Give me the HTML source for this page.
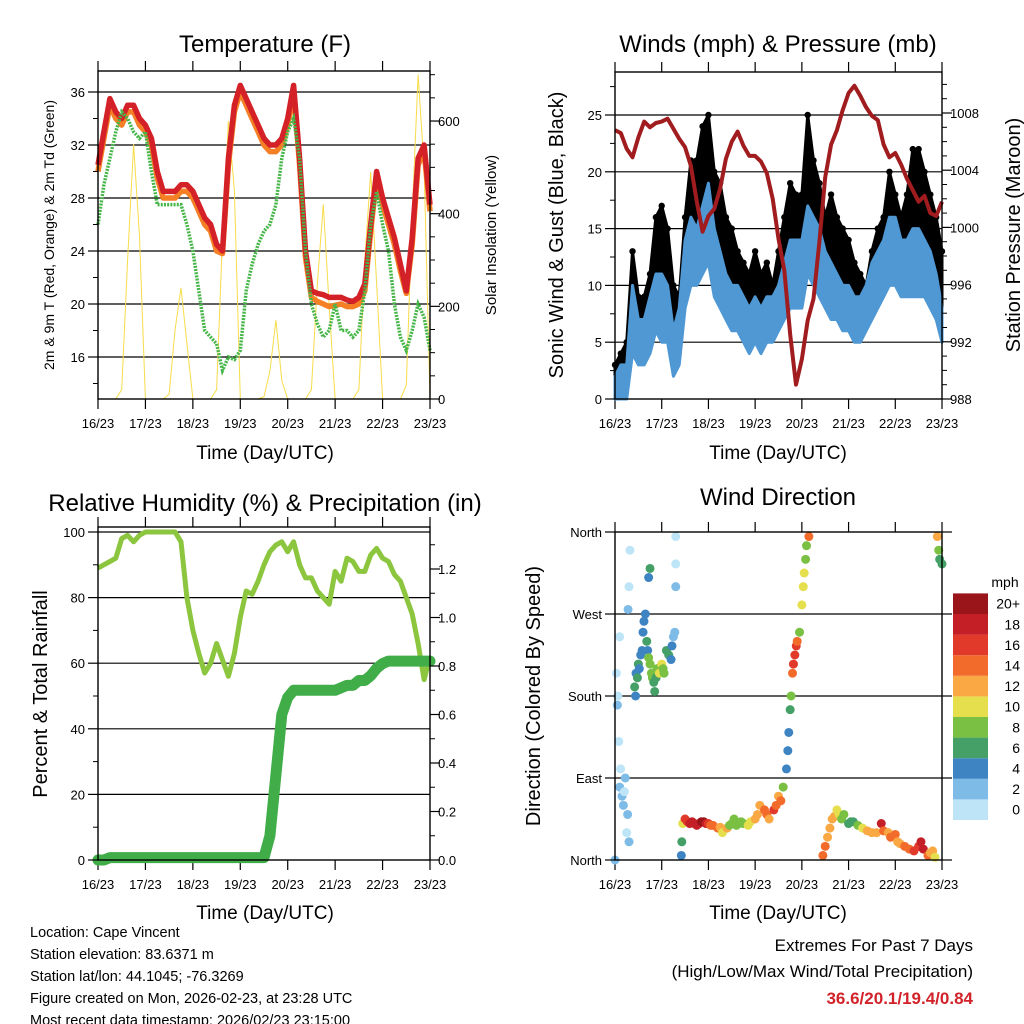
<!DOCTYPE html>
<html><head><meta charset="utf-8">
<style>
body{margin:0;background:#fff;}
svg{display:block;font-family:"Liberation Sans",sans-serif;}
</style></head>
<body>
<svg id="c" width="1024" height="1024" viewBox="0 0 1024 1024" xmlns="http://www.w3.org/2000/svg"></svg>
<script>
// ---------- DATA (3-hour samples, day 0..7) ----------
const dayLabels = ["16/23","17/23","18/23","19/23","20/23","21/23","22/23","23/23"];
const temp2m = [30.5,33,35.5,34.5,34,35,35,34,33.5,32.5,30,28.5,28.5,28.5,29,29,28.5,27.5,26.5,26,24.5,24,31,35,36.5,35.5,34.5,33.5,32.5,32,32,32.5,34,36.5,31,24,21,20.8,20.7,20.5,20.5,20.5,20.3,20.2,20.5,21.5,26,30,28,26.5,25,23,21,25,31,32,27.5];
const temp9m = [30,32.5,35,34,33.5,34.5,34.5,33.5,33,32,29.5,28,28,28,28.5,28.5,28,27,26,25.5,24,23.8,30.5,34.5,36,35,34,33,32,31.5,31.5,32,33.5,36,30.5,23.5,20.5,20.2,20,19.8,19.9,20,19.8,19.8,20,21,25.5,29.5,27.5,26,24.5,22.5,20.8,24.5,30.5,31.5,27];
const dewpt = [26,29,31,33,34.5,34,33,32.5,33,30,27.5,27.5,27.5,27.5,27.5,26,24,21,18,17.5,17,15,16,15.8,16.5,21,23,24.5,25.5,26,27.5,31,33,34,31,24,20,18.5,17.5,18,20,18,18,17.5,18,21,26,28.5,26,24,20,17.5,16.5,18,20,19,16.5];
const solar = [0,0,0,0,20,300,550,350,0,0,0,0,10,150,240,120,0,0,0,0,20,350,600,450,0,0,0,0,5,60,170,40,0,0,0,0,20,250,420,200,0,0,0,0,20,300,490,250,0,0,0,0,30,400,700,500,0];
const gust = [3,4,5,13,9,9,11,16,17,15,10,9,16,21,21,24,25,20,19,16,15,13,12,11,13,11,12,10,13,16,19,18,18,25,21,19,16,18,16,15,14,12,11,10,13,15,16,20,18,16,18,22,22,20,18,16,13];
const windHi = [2,3,3,10,7,7,9,11,11,10,6,8,14,16,15,17,19,15,13,11,10,10,9,8,9,8,9,9,10,12,14,14,14,17,16,15,13,12,11,10,10,9,9,10,12,13,14,16,16,14,14,15,15,14,13,11,8];
const windLo = [0,0,0,4,3,3,4,6,5,5,2,3,8,10,10,11,12,9,8,7,6,6,5,4,5,4,5,5,6,7,8,8,8,11,10,9,8,7,7,6,6,5,5,6,7,8,9,10,10,9,9,9,9,9,8,7,5];
const pressure = [1006.8,1006.6,1005.5,1004.9,1006.3,1007.4,1007.0,1007.3,1007.4,1007.6,1006.9,1006.2,1005.6,1004.3,1001.8,999.7,1000.8,1001.3,1002.7,1004.8,1006.0,1006.7,1005.7,1005.0,1005.0,1004.6,1003.8,1002.0,999.2,997.0,992.5,989.0,990.8,993.5,995.0,999.0,1003.5,1005.8,1006.8,1008.2,1009.4,1009.9,1009.2,1008.4,1007.8,1007.5,1005.8,1004.9,1005.2,1004.4,1003.4,1002.6,1001.8,1002.2,1001.0,1000.8,1001.8];
const rh = [89,90,91,92,98,99,97,99,100,100,100,100,100,100,97,80,70,63,57,60,66,61,56,63,74,82,81,85,90,94,96,97,94,97,90,86,86,82,80,78,88,85,92,91,88,88,93,95,92,91,87,85,80,75,66,55,62];
const precip = [0,0,0.01,0.01,0.01,0.01,0.01,0.01,0.01,0.01,0.01,0.01,0.01,0.01,0.01,0.01,0.01,0.01,0.01,0.01,0.01,0.01,0.01,0.01,0.01,0.01,0.01,0.01,0.01,0.1,0.35,0.6,0.67,0.70,0.70,0.70,0.70,0.70,0.70,0.70,0.70,0.71,0.72,0.72,0.74,0.74,0.76,0.79,0.81,0.82,0.82,0.82,0.82,0.82,0.82,0.82,0.82];
const dirTime = [0.0,0.03,0.05,0.06,0.08,0.1,0.12,0.15,0.18,0.2,0.22,0.25,0.27,0.3,0.1,0.3,0.28,0.32,0.42,0.44,0.45,0.48,0.5,0.52,0.55,0.58,0.6,0.62,0.65,0.68,0.7,0.72,0.75,0.78,0.8,0.83,0.85,0.88,0.9,0.95,1.0,1.03,1.05,1.1,1.15,1.2,1.22,1.25,1.28,1.3,0.75,0.72,1.3,1.3,1.42,1.43,1.45,1.5,1.55,1.6,1.65,1.7,1.75,1.8,1.85,1.9,1.95,2.0,2.05,2.1,2.2,2.25,2.3,2.4,2.45,2.5,2.55,2.6,2.65,2.7,2.75,2.85,2.9,3.0,3.05,3.1,3.2,3.25,3.3,3.4,3.45,3.5,3.55,3.6,3.67,3.7,3.72,3.75,3.77,3.8,3.82,3.85,3.88,3.9,3.95,4.0,4.03,4.05,4.08,4.1,4.15,4.45,4.5,4.55,4.6,4.65,4.7,4.75,4.8,4.85,4.9,5.0,5.05,5.1,5.2,5.3,5.4,5.5,5.6,5.7,5.75,5.85,5.9,6.0,6.05,6.1,6.2,6.3,6.4,6.5,6.55,6.6,6.7,6.75,6.8,6.85,6.9,6.93,6.95,7.0];
const dirDeg = [0,205,170,180,130,80,100,70,60,75,90,30,50,20,245,300,275,340,190,180,205,200,215,210,225,230,250,262,270,240,230,222,215,205,200,195,185,200,210,205,215,210,205,230,225,220,235,245,250,325,320,310,355,300,5,20,40,45,42,40,42,40,38,40,42,42,40,40,38,38,35,36,30,35,38,40,45,38,40,42,40,38,42,45,50,60,55,50,45,55,60,70,65,80,100,120,140,165,180,205,215,225,235,240,250,280,300,315,330,345,355,5,15,25,35,45,48,55,50,45,50,40,42,42,38,35,32,30,30,40,32,30,25,28,20,18,15,12,10,15,20,12,5,8,10,3,355,340,330,325];
const dirSpd = [2,1,2,1,1,2,1,2,2,1,2,1,2,2,1,1,2,0,6,4,4,6,6,4,4,4,4,4,4,6,4,8,8,8,8,6,6,6,8,10,10,8,8,6,6,4,4,2,2,1,6,4,0,2,4,6,10,16,17,18,18,19,18,18,20,20,19,16,14,14,14,13,10,12,9,8,8,8,9,8,8,10,11,12,12,12,14,14,12,16,14,12,14,8,4,4,4,6,8,14,16,16,16,14,8,10,10,10,9,8,14,14,14,13,12,12,12,10,10,8,8,6,6,6,8,10,12,12,12,18,14,13,14,14,12,12,14,14,16,16,18,18,14,12,12,11,12,8,7,6];
const speedLabels = ["0","2","4","6","8","10","12","14","16","18","20+"];
const speedColors = ["#bde5f7","#7ebbe6","#3e84c3","#44a066","#79c043","#e6df4d","#f9a844","#f26b2b","#e23a2a","#c41f27","#99151a"];

// ---------- HELPERS ----------
const svg = document.getElementById('c');
const NS = 'http://www.w3.org/2000/svg';
function mk(tag, attrs, parent){const e=document.createElementNS(NS,tag);for(const k in attrs)e.setAttribute(k,attrs[k]);(parent||svg).appendChild(e);return e;}
function txt(s, attrs, parent){const e=mk('text',attrs,parent);e.textContent=s;return e;}
const times = solar.map((_,i)=>i*0.125);

function axesFrame(p){
  const g = mk('g',{});
  
  
  p.grid.forEach(v=>{const y=p.yL(v);const l=mk('line',{x1:p.x0,x2:p.x1,y1:y,y2:y,stroke:'#000','stroke-width':1.2},g);
    
    });
  for(let d=0;d<=7;d++){const x=p.x(d);
    mk('line',{x1:x,x2:x,y1:p.y1,y2:p.y1+10,stroke:'#000','stroke-width':1.2},g);
    mk('line',{x1:x,x2:x,y1:p.y0,y2:p.y0-10,stroke:'#000','stroke-width':1.2},g);
    const t=txt(dayLabels[d],{x:x,y:p.y1+29,'font-size':13,'text-anchor':'middle'},g);
    
    }
  return g;
}
function border(p){const r=mk('rect',{x:p.x0,y:p.y0,width:p.x1-p.x0,height:p.y1-p.y0,fill:'none',stroke:'#000','stroke-width':1.4});
  
  }
function yTicks(p, vals, fn, side, labels, minor){
  const g=mk('g',{});
  
  
  vals.forEach((v,i)=>{const y=fn(v);
    const x=side==='left'?p.x0:p.x1, dx=side==='left'?-10:10;
    mk('line',{x1:x,x2:x+dx,y1:y,y2:y,stroke:'#000','stroke-width':1.2},g);
    if(labels){const t=txt(labels[i],{x:side==='left'?p.x0-13:p.x1+8,y:y+5,'font-size':13,'text-anchor':side==='left'?'end':'start'},g);
      
      }});
  (minor||[]).forEach(v=>{const y=fn(v);const x=side==='left'?p.x0:p.x1,dx=side==='left'?-5:5;
    mk('line',{x1:x,x2:x+dx,y1:y,y2:y,stroke:'#000','stroke-width':1},g);});
}
function linePath(xs, ys, p, fx, fy){return xs.map((t,i)=>(i?'L':'M')+fx(t).toFixed(1)+','+fy(ys[i]).toFixed(1)).join('');}
function title(s,x,y,size,name){const t=txt(s,{x:x,y:y,'font-size':size,'text-anchor':'middle'});return t;}
function vtitle(s,x,y,size,name){const t=txt(s,{x:0,y:0,'font-size':size,'text-anchor':'middle',transform:`translate(${x},${y}) rotate(-90)`});return t;}

// ---------- PANEL 1: Temperature ----------
const P1={name:'temperature',x0:98,x1:430,y0:71,y1:399};
P1.x=d=>P1.x0+(P1.x1-P1.x0)*d/7;
P1.yL=v=>357-(v-16)*13.25;
P1.yR=v=>399-v*0.4633;
P1.grid=[16,20,24,28,32,36];
axesFrame(P1);
{const s=mk('path',{d:linePath(times,solar,P1,P1.x,P1.yR),fill:'none',stroke:'#f7dc4a','stroke-width':1});

const o=mk('path',{d:linePath(times,temp9m,P1,P1.x,P1.yL),fill:'none',stroke:'#f57f25','stroke-width':5.5,'stroke-linejoin':'round'});

const r=mk('path',{d:linePath(times,temp2m,P1,P1.x,P1.yL),fill:'none',stroke:'#d42027','stroke-width':5.5,'stroke-linejoin':'round'});

const g=mk('path',{d:linePath(times,dewpt,P1,P1.x,P1.yL),fill:'none',stroke:'#46b648','stroke-width':3.5,'stroke-dasharray':'2 1.2'});
}
border(P1);
yTicks(P1,[16,20,24,28,32,36],P1.yL,'left',['16','20','24','28','32','36'],[14,18,22,26,30,34]);
yTicks(P1,[0,200,400,600],P1.yR,'right',['0','200','400','600'],[50,100,150,250,300,350,450,500,550,650,700]);
title('Temperature (F)',265,52,24,'temperature-title');
title('Time (Day/UTC)',265,459,19,'temperature-x-title');
vtitle('2m & 9m T (Red, Orange) & 2m Td (Green)',54,235,14,'temperature-y-title');
vtitle('Solar Insolation (Yellow)',496,235,15,'solar-y-title');

// ---------- PANEL 2: Winds ----------
const P2={name:'winds',x0:615,x1:942,y0:72,y1:399};
P2.x=d=>P2.x0+(P2.x1-P2.x0)*d/7;
P2.yL=v=>399-v*11.36;
P2.yR=v=>399-(v-988)*14.3;
P2.grid=[5,10,15,20,25];
axesFrame(P2);
{const band=(lo,hi,fill,name)=>{const d=linePath(times,hi,P2,P2.x,P2.yL)+times.slice().reverse().map((t,j)=>'L'+P2.x(t).toFixed(1)+','+P2.yL(lo[lo.length-1-j]).toFixed(1)).join('')+'Z';
  const e=mk('path',{d:d,fill:fill,stroke:fill,'stroke-width':3,'stroke-linejoin':'round'});};
band(windHi,gust,'#000','gust-band');
const gd=mk('g',{});
gust.forEach((v,i)=>{const c=mk('circle',{cx:P2.x(times[i]),cy:P2.yL(v),r:3.2,fill:'#000'},gd);});
band(windLo,windHi,'#4f98d4','sonic-wind-band');
const pr=mk('path',{d:linePath(times,pressure,P2,P2.x,P2.yR),fill:'none',stroke:'#a01c1f','stroke-width':4,'stroke-linejoin':'round'});
}
border(P2);
yTicks(P2,[0,5,10,15,20,25],P2.yL,'left',['0','5','10','15','20','25'],[2.5,7.5,12.5,17.5,22.5,27.5]);
yTicks(P2,[988,992,996,1000,1004,1008],P2.yR,'right',['988','992','996','1000','1004','1008'],[989,990,991,993,994,995,997,998,999,1001,1002,1003,1005,1006,1007,1009,1010]);
title('Winds (mph) & Pressure (mb)',778,52,24,'winds-title');
title('Time (Day/UTC)',778,459,19,'winds-x-title');
vtitle('Sonic Wind & Gust (Blue, Black)',563,235,20,'wind-y-title');
vtitle('Station Pressure (Maroon)',1020,235,20,'pressure-y-title');

// ---------- PANEL 3: RH & Precip ----------
const P3={name:'humidity',x0:98,x1:430,y0:527,y1:860};
P3.x=d=>P3.x0+(P3.x1-P3.x0)*d/7;
P3.yL=v=>860-v*3.28;
P3.yR=v=>860-v*242.5;
P3.grid=[20,40,60,80,100];
axesFrame(P3);
{const h=mk('path',{d:linePath(times,rh,P3,P3.x,P3.yL),fill:'none',stroke:'#8cc63f','stroke-width':5,'stroke-linejoin':'round'});

const p=mk('path',{d:linePath(times,precip,P3,P3.x,P3.yR),fill:'none',stroke:'#41ad49','stroke-width':11,'stroke-linejoin':'round','stroke-linecap':'round'});
}
border(P3);
yTicks(P3,[0,20,40,60,80,100],P3.yL,'left',['0','20','40','60','80','100'],[10,30,50,70,90]);
yTicks(P3,[0,0.2,0.4,0.6,0.8,1.0,1.2],P3.yR,'right',['0.0','0.2','0.4','0.6','0.8','1.0','1.2'],[0.1,0.3,0.5,0.7,0.9,1.1,1.3]);
title('Relative Humidity (%) & Precipitation (in)',265,511,24,'humidity-title');
title('Time (Day/UTC)',265,919,19,'humidity-x-title');
vtitle('Percent & Total Rainfall',47,694,20,'humidity-y-title');

// ---------- PANEL 4: Wind direction ----------
const P4={name:'wind-direction',x0:615,x1:942,y0:532,y1:860};
P4.x=d=>P4.x0+(P4.x1-P4.x0)*d/7;
P4.yL=v=>860-v/360*328;
P4.grid=[90,180,270];
axesFrame(P4);
{const g=mk('g',{});
dirTime.forEach((t,i)=>{const ci=Math.min(10,Math.floor(dirSpd[i]/2));
  const c=mk('circle',{cx:P4.x(t),cy:P4.yL(dirDeg[i]),r:4.5,fill:speedColors[ci]},g);
  
  });}
border(P4);
yTicks(P4,[0,90,180,270,360],P4.yL,'left',['North','East','South','West','North'],[]);
yTicks(P4,[0,90,180,270,360],P4.yL,'right',null,[]);
title('Wind Direction',778,505,24,'wind-direction-title');
title('Time (Day/UTC)',778,919,19,'wind-direction-x-title');
vtitle('Direction (Colored By Speed)',540,696,20,'wind-direction-y-title');
{const g=mk('g',{});
const bh=20.6, bottom=820;
speedColors.forEach((c,i)=>{const r=mk('rect',{x:953,y:bottom-(i+1)*bh,width:35,height:bh,fill:c},g);
  
  const t=txt(speedLabels[i],{x:1020,y:bottom-(i+0.5)*bh+5,'font-size':14,'text-anchor':'end'},g);
  });
const u=txt('mph',{x:1005,y:587,'font-size':14,'text-anchor':'middle'},g);
}

// ---------- Footer ----------
{const info=['Location: Cape Vincent','Station elevation: 83.6371 m','Station lat/lon: 44.1045; -76.3269','Figure created on Mon, 2026-02-23, at 23:28 UTC','Most recent data timestamp: 2026/02/23 23:15:00'];
info.forEach((s,i)=>{const t=txt(s,{x:30,y:937+i*22,'font-size':14.5});});
const a=txt('Extremes For Past 7 Days',{x:973,y:951,'font-size':17,'text-anchor':'end'});
const b=txt('(High/Low/Max Wind/Total Precipitation)',{x:973,y:977,'font-size':17,'text-anchor':'end'});
const c=txt('36.6/20.1/19.4/0.84',{x:973,y:1004,'font-size':17,'font-weight':'bold',fill:'#d2232a','text-anchor':'end'});}
</script>
</body></html>
